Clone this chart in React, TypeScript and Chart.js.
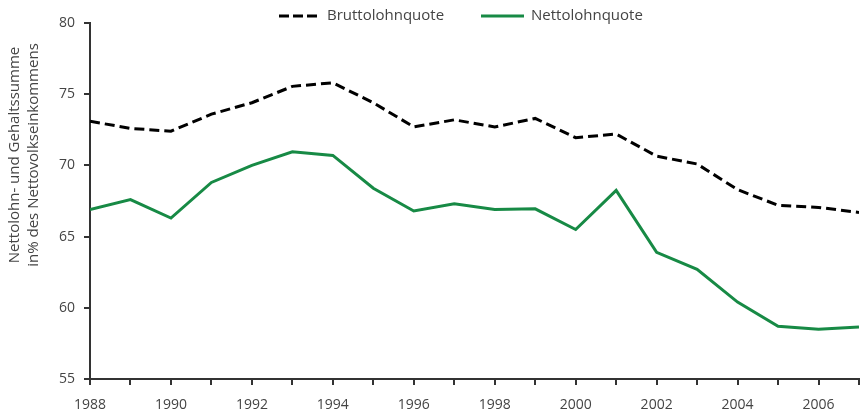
import React, { useEffect, useRef } from "react";
import { Chart, registerables } from "chart.js";

Chart.register(...registerables);

const years = [1988, 1989, 1990, 1991, 1992, 1993, 1994, 1995, 1996, 1997, 1998, 1999, 2000, 2001, 2002, 2003, 2004, 2005, 2006, 2007];
const bruttolohnquote = [73.1, 72.6, 72.4, 73.6, 74.4, 75.55, 75.8, 74.4, 72.7, 73.2, 72.7, 73.3, 71.95, 72.2, 70.65, 70.1, 68.3, 67.2, 67.05, 66.7];
const nettolohnquote = [66.9, 67.6, 66.3, 68.8, 70.0, 70.95, 70.7, 68.4, 66.8, 67.3, 66.9, 66.95, 65.5, 68.25, 63.9, 62.7, 60.4, 58.7, 58.5, 58.65];
const seriesNames = ["Bruttolohnquote", "Nettolohnquote"];
const yTitleLines = ["Nettolohn- und Gehaltssumme", "in% des Nettovolkseinkommens"];
const xLabelYears = [1988, 1990, 1992, 1994, 1996, 1998, 2000, 2002, 2004, 2006];

const FONT = "'Open Sans', 'DejaVu Sans', sans-serif";
const TEXT = "#444444";
const AXIS = "#333333";
const GREEN = "#178a45";

const overlay = {
  id: "overlay",
  afterDraw(chart: any) {
    const ctx = chart.ctx;
    ctx.save();
    // legend
    ctx.font = `15px ${FONT}`;
    ctx.fillStyle = TEXT;
    ctx.textBaseline = "middle";
    ctx.textAlign = "left";
    const ly = 16;
    ctx.lineWidth = 3;
    ctx.strokeStyle = "#000";
    ctx.setLineDash([10, 4]);
    ctx.beginPath();
    ctx.moveTo(279, ly);
    ctx.lineTo(317, ly);
    ctx.stroke();
    ctx.fillText(seriesNames[0], 327, ly);
    ctx.setLineDash([]);
    ctx.strokeStyle = GREEN;
    ctx.beginPath();
    ctx.moveTo(481, ly);
    ctx.lineTo(524, ly);
    ctx.stroke();
    ctx.fillText(seriesNames[1], 531, ly);
    // y title
    ctx.font = `15px ${FONT}`;
    ctx.textAlign = "center";
    ctx.translate(0, 155);
    ctx.rotate(-Math.PI / 2);
    ctx.fillText(yTitleLines[0], 0, 15);
    ctx.fillText(yTitleLines[1], 0, 34);
    ctx.restore();
  },
};

export default function App() {
  const ref = useRef<HTMLCanvasElement | null>(null);
  useEffect(() => {
    if (!ref.current) return;
    const chart = new Chart(ref.current, {
      type: "line",
      data: {
        datasets: [
          {
            label: seriesNames[0],
            data: years.map((x, i) => ({ x, y: bruttolohnquote[i] })),
            borderColor: "#000000",
            borderWidth: 3,
            borderDash: [10, 5],
            pointRadius: 0,
            tension: 0,
          },
          {
            label: seriesNames[1],
            data: years.map((x, i) => ({ x, y: nettolohnquote[i] })),
            borderColor: GREEN,
            borderWidth: 3,
            pointRadius: 0,
            tension: 0,
          },
        ],
      },
      options: {
        animation: false,
        responsive: true,
        maintainAspectRatio: false,
        layout: { padding: { top: 23, right: 1, left: 0, bottom: 0 } },
        plugins: { legend: { display: false }, tooltip: { enabled: false } },
        scales: {
          x: {
            type: "linear",
            min: 1988,
            max: 2007,
            afterFit: (s: any) => {
              s.height = 34;
              s.paddingRight = 0;
              s.paddingLeft = 0;
            },
            ticks: {
              stepSize: 1,
              autoSkip: false,
              maxRotation: 0,
              padding: 12,
              color: TEXT,
              font: { family: FONT, size: 14 },
              callback: (v: any) => (xLabelYears.includes(Number(v)) ? String(v) : ""),
            },
            grid: { drawOnChartArea: false, drawTicks: true, tickLength: 6, color: AXIS, lineWidth: 2 },
            border: { display: true, color: AXIS, width: 2 },
          },
          y: {
            min: 55,
            max: 80,
            afterFit: (s: any) => {
              s.width = 90;
            },
            ticks: {
              stepSize: 5,
              padding: 9,
              color: TEXT,
              font: { family: FONT, size: 14 },
            },
            grid: { drawOnChartArea: false, drawTicks: true, tickLength: 6, color: AXIS, lineWidth: 2 },
            border: { display: true, color: AXIS, width: 2 },
          },
        },
      },
      plugins: [overlay],
    });
    return () => chart.destroy();
  }, []);
  return (
    <div style={{ position: "absolute", left: 0, top: 0, width: 860, height: 413 }}>
      <canvas ref={ref} />
    </div>
  );
}
